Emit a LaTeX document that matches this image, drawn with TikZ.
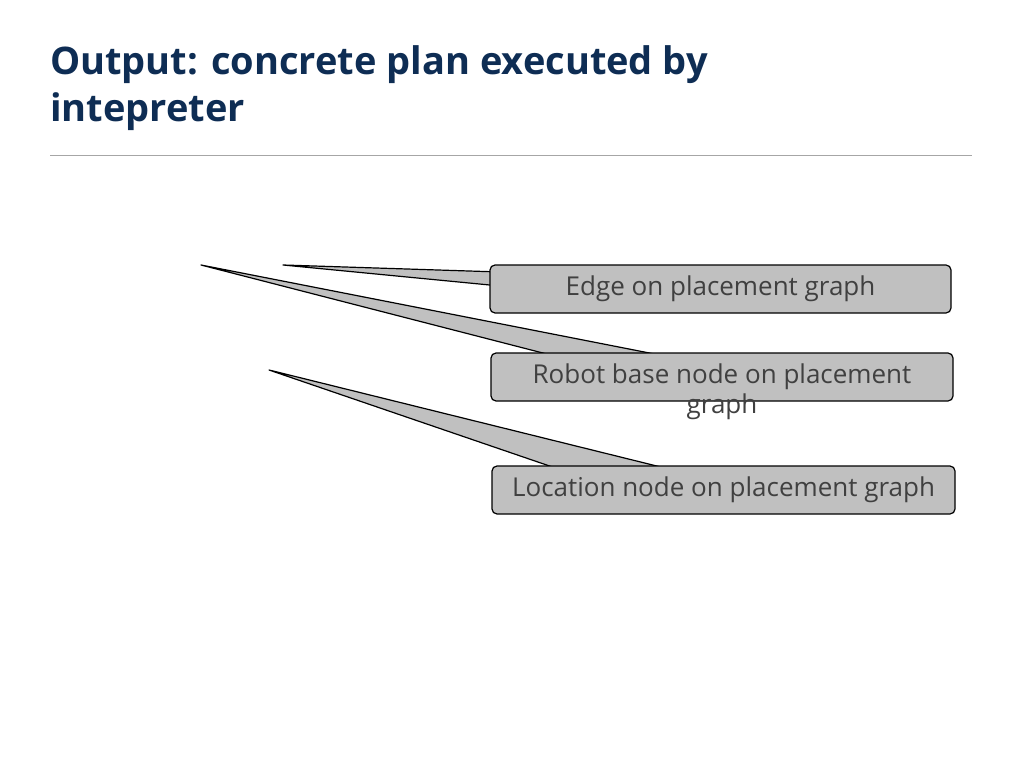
\documentclass[tikz,border=0pt]{standalone}
\usepackage{fontspec}
\setmainfont{Open Sans}
\definecolor{titleblue}{RGB}{14, 45, 84}
\definecolor{boxgray}{RGB}{192, 192, 192}
\definecolor{textgray}{RGB}{64, 64, 64}
\tikzset{callout/.style={rounded corners=5pt, fill=boxgray, draw=black, line width=1.2pt, minimum height=48pt, text=textgray, font=\fontsize{26}{30}\selectfont, inner sep=0pt},
pointer/.style={fill=boxgray, draw=black, line width=1.2pt, line join=round}}
\begin{document}
\begin{tikzpicture}[x=1pt, y=1pt]
\useasboundingbox (0pt, 0pt) rectangle (1024pt, -767pt);
\node (title) [anchor=base west, align=left, text=titleblue, font=\fontsize{38}{47}\selectfont\bfseries, inner sep=0pt] at (50pt, -75pt) {Output: concrete plan executed by};
\node (title2) [anchor=base west, text=titleblue, font=\fontsize{38}{47}\selectfont\bfseries, inner sep=0pt] at (50pt, -122pt) {intepreter};
\coordinate (ruleL) at (50pt, -155pt);
\coordinate (ruleR) at (972pt, -155pt);
\draw [gray!70, line width=0.8pt] (ruleL) -- (ruleR);
% pointers
\coordinate (tip1) at (283pt, -265pt);
\coordinate (tip2) at (201pt, -265pt);
\coordinate (tip3) at (269pt, -370pt);
\draw [pointer] (tip1) -- (500pt, -272pt) -- (500pt, -286pt) -- cycle;
\draw [pointer] (tip2) -- (570pt, -360pt) -- (685pt, -360pt) -- cycle;
\draw [pointer] (tip3) -- (570pt, -473pt) -- (685pt, -473pt) -- cycle;
% boxes
\node (edge) [callout, minimum width=461pt] at (720.5pt, -289pt) {Edge on placement graph};
\node (robot) [callout, minimum width=462pt] at (722pt, -377pt) {Robot base node on placement};
\node (robotb) [text=textgray, font=\fontsize{26}{30}\selectfont, inner sep=0pt] at (722pt, -407pt) {graph};
\node (loc) [callout, minimum width=463pt] at (723.5pt, -490pt) {Location node on placement graph};
\end{tikzpicture}
\end{document}
